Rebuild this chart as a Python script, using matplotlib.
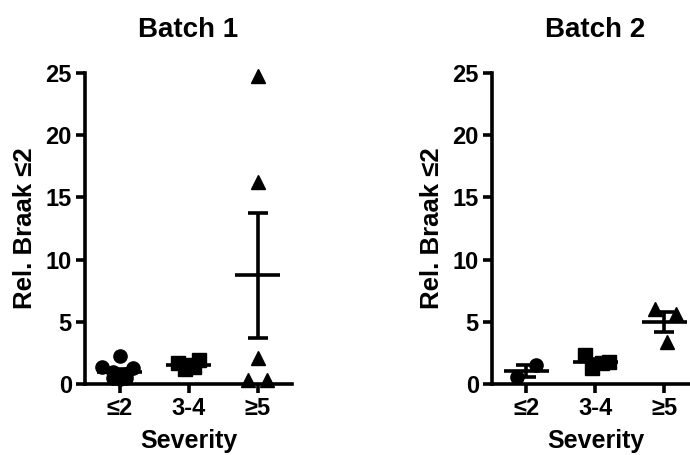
import numpy as np
import matplotlib
matplotlib.use('Agg')
import matplotlib.pyplot as plt

plt.rcParams['font.family'] = ['Liberation Sans', 'DejaVu Sans']
plt.rcParams['font.weight'] = 'bold'

# Data
groups = ['≤2', '3-4', '≥5']
markers = ['o', 's', '^']

# Batch 1
b1_le2 = [2.25, 1.4, 1.3, 0.95, 0.8, 0.7, 0.5, 0.45, 0.4]
b1_le2_x = [0.0, -0.25, 0.2, -0.1, 0.1, -0.05, -0.1, 0.1, 0.0]
b1_34 = [1.7, 1.2, 1.5, 1.9, 1.4]
b1_34_x = [-0.15, -0.05, 0.0, 0.15, 0.08]
b1_ge5 = [24.8, 16.2, 2.1, 0.3, 0.3]
b1_ge5_x = [0.0, 0.0, 0.0, -0.14, 0.14]

# Batch 2
b2_le2 = [1.5, 0.6]
b2_le2_x = [0.14, -0.14]
b2_34 = [2.3, 1.3, 1.7, 1.8]
b2_34_x = [-0.15, -0.05, 0.1, 0.2]
b2_ge5 = [6.0, 5.6, 3.4]
b2_ge5_x = [-0.13, 0.17, 0.03]

batches = [
    ('Batch 1', [b1_le2, b1_34, b1_ge5], [b1_le2_x, b1_34_x, b1_ge5_x]),
    ('Batch 2', [b2_le2, b2_34, b2_ge5], [b2_le2_x, b2_34_x, b2_ge5_x]),
]

fig = plt.figure(figsize=(6.9, 4.55), dpi=100)
positions = [[0.1232, 0.156, 0.300, 0.6835], [0.713, 0.156, 0.300, 0.6835]]

for pos, (title, vals, offs) in zip(positions, batches):
    ax = fig.add_axes(pos)
    for i, (v, dx) in enumerate(zip(vals, offs)):
        v = np.array(v)
        xs = i + np.array(dx)
        ax.plot(xs, v, linestyle='none', marker=markers[i], markersize=9.5,
                color='black', clip_on=False, zorder=3)
        m = v.mean()
        sem = v.std(ddof=1) / np.sqrt(len(v))
        ax.hlines(m, i - 0.32, i + 0.32, color='black', lw=2.6, zorder=4)
        ax.errorbar(i, m, yerr=sem, fmt='none', ecolor='black', elinewidth=2.6,
                    capsize=7, capthick=2.6, zorder=4)
    ax.set_xlim(-0.5, 2.5)
    ax.set_ylim(0, 25)
    ax.set_yticks([0, 5, 10, 15, 20, 25])
    ax.set_xticks(range(3))
    ax.set_xticklabels(groups)
    for s in ['top', 'right']:
        ax.spines[s].set_visible(False)
    for s in ['left', 'bottom']:
        ax.spines[s].set_linewidth(2.6)
    ax.tick_params(width=2.6, length=6.5, labelsize=17, pad=3)
    ax.set_title(title, fontsize=20, fontweight='bold', pad=26)
    ax.set_xlabel('Severity', fontsize=18, fontweight='bold', labelpad=6)
    ax.set_ylabel('Rel. Braak ≤2', fontsize=18.5, fontweight='bold', labelpad=6)

fig.savefig('out.png', dpi=100)
